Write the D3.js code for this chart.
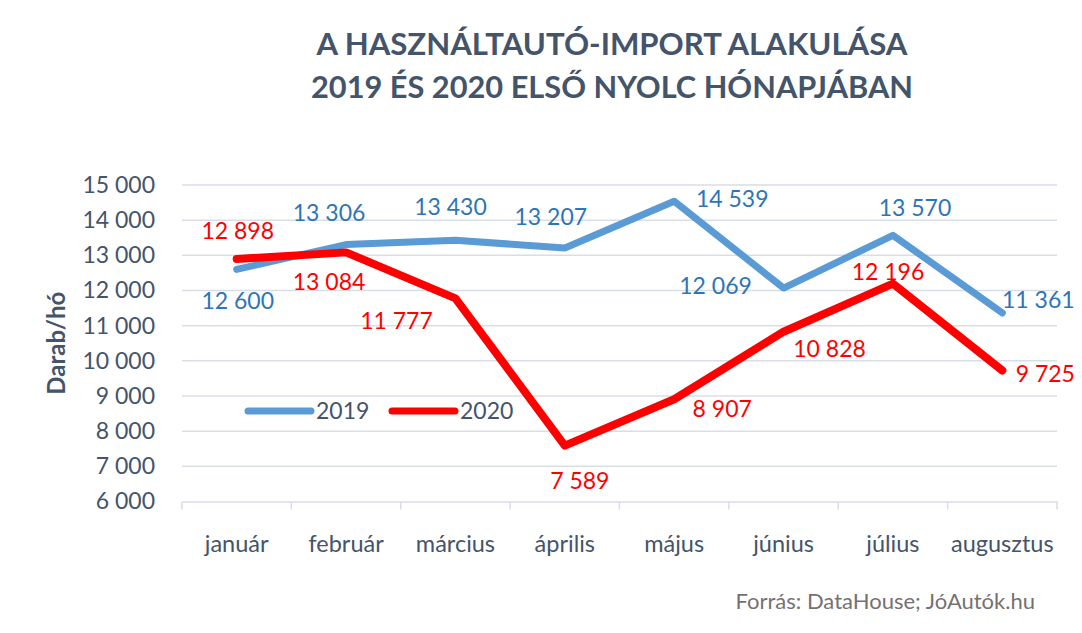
<!DOCTYPE html>
<html>
<head>
<meta charset="utf-8">
<script src="https://cdn.jsdelivr.net/npm/d3@7"></script>
<style>
  body { margin: 0; background: #fff; }
  svg { display: block; font-family: Lato, "Open Sans", sans-serif; }
</style>
</head>
<body>
<div id="chart"></div>
<script>
const width = 1082;
const height = 633;

// data
const months = ["január", "február", "március", "április", "május", "június", "július", "augusztus"];
const values2019 = [12600, 13306, 13430, 13207, 14539, 12069, 13570, 11361];
const values2020 = [12898, 13084, 11777, 7589, 8907, 10828, 12196, 9725];
const yTicks = [6000, 7000, 8000, 9000, 10000, 11000, 12000, 13000, 14000, 15000];
const seriesNames = ["2019", "2020"];
const titleLines = ["A HASZNÁLTAUTÓ-IMPORT ALAKULÁSA", "2019 ÉS 2020 ELSŐ NYOLC HÓNAPJÁBAN"];

// label offsets from the point (the way they were placed in the original)
const offsets2019 = [[1, 31], [-17, -32], [-5, -33], [-14, -31], [58, -2], [-68, -2], [22, -28], [36, -13]];
const offsets2020 = [[1, -28], [-17, 29], [-59, 22], [15, 35], [48, 9], [46, 17], [-5, -12], [43, 3]];

const textColor = "#44546A";
const gridColor = "#D9DEE6";

const margin = { top: 185, right: 25, bottom: 131, left: 182 };

const svg = d3.select("#chart")
    .append("svg")
    .attr("width", width)
    .attr("height", height);

const x = d3.scaleBand()
    .domain(months)
    .range([margin.left, width - margin.right]);

const y = d3.scaleLinear()
    .domain([6000, 15000])
    .range([height - margin.bottom - 0.5, margin.top]);

const fmt = v => d3.format(",")(v).replace(/,/g, " ");

// title
svg.append("g")
    .selectAll("text")
    .data(titleLines)
    .join("text")
    .attr("x", 612)
    .attr("y", (d, i) => 55 + i * 43)
    .attr("text-anchor", "middle")
    .attr("fill", textColor)
    .attr("font-weight", 700)
    .attr("font-size", 31)
    .attr("textLength", (d, i) => i === 0 ? 591 : 602)
    .attr("lengthAdjust", "spacingAndGlyphs")
    .text(d => d);

// gridlines
svg.append("g")
    .selectAll("line")
    .data(yTicks.slice(1))
    .join("line")
    .attr("x1", margin.left)
    .attr("x2", width - margin.right)
    .attr("y1", d => y(d))
    .attr("y2", d => y(d))
    .attr("stroke", gridColor)
    .attr("stroke-width", 1.5);

// y axis labels
const yAxis = svg.append("g")
    .attr("transform", `translate(${margin.left},0)`)
    .call(d3.axisLeft(y).tickValues(yTicks).tickFormat(fmt).tickSize(0).tickPadding(27));
yAxis.select(".domain").remove();
yAxis.selectAll("text")
    .attr("fill", textColor)
    .attr("font-size", 23)
    .attr("font-family", "Lato, 'Open Sans', sans-serif");

// x axis
const xAxis = svg.append("g")
    .attr("transform", `translate(0,${y(6000)})`)
    .call(d3.axisBottom(x).tickSize(0).tickPadding(34));
xAxis.select(".domain").attr("stroke", gridColor).attr("stroke-width", 1.5);
xAxis.selectAll("text")
    .attr("fill", textColor)
    .attr("font-size", 23.5)
    .attr("font-family", "Lato, 'Open Sans', sans-serif");

// band boundary ticks
const bounds = months.map(m => x(m)).concat([x(months[months.length - 1]) + x.bandwidth()]);
xAxis.append("g")
    .selectAll("line")
    .data(bounds)
    .join("line")
    .attr("x1", d => d)
    .attr("x2", d => d)
    .attr("y1", 0)
    .attr("y2", 8)
    .attr("stroke", gridColor)
    .attr("stroke-width", 1.5);

// y axis title
svg.append("text")
    .attr("transform", `translate(65,${y(10500)}) rotate(-90)`)
    .attr("text-anchor", "middle")
    .attr("fill", textColor)
    .attr("font-weight", 700)
    .attr("font-size", 24)
    .text("Darab/hó");

// lines
const line = d3.line()
    .x((d, i) => x(months[i]) + x.bandwidth() / 2)
    .y(d => y(d));

const series = [
    { name: seriesNames[0], values: values2019, offsets: offsets2019, stroke: "#5B9BD5", label: "#2E75B6", width: 7 },
    { name: seriesNames[1], values: values2020, offsets: offsets2020, stroke: "#FF0000", label: "#FF0000", width: 8 }
];

series.forEach(s => {
    svg.append("path")
        .datum(s.values)
        .attr("d", line)
        .attr("fill", "none")
        .attr("stroke", s.stroke)
        .attr("stroke-width", s.width)
        .attr("stroke-linejoin", "round")
        .attr("stroke-linecap", "round");
});

// data labels
series.forEach(s => {
    svg.append("g")
        .selectAll("text")
        .data(s.values)
        .join("text")
        .attr("x", (d, i) => x(months[i]) + x.bandwidth() / 2 + s.offsets[i][0])
        .attr("y", (d, i) => y(d) + s.offsets[i][1])
        .attr("dy", "0.36em")
        .attr("text-anchor", "middle")
        .attr("fill", s.label)
        .attr("font-size", 23)
        .text(fmt);
});

// legend
const legend = svg.append("g").attr("transform", "translate(248,411)");
const legendItem = legend.selectAll("g")
    .data(series)
    .join("g")
    .attr("transform", (d, i) => `translate(${i * 144},0)`);
legendItem.append("line")
    .attr("x1", 0)
    .attr("x2", 63)
    .attr("stroke", d => d.stroke)
    .attr("stroke-width", 7)
    .attr("stroke-linecap", "round");
legendItem.append("text")
    .attr("x", 68)
    .attr("dy", "0.36em")
    .attr("fill", textColor)
    .attr("font-size", 23)
    .text(d => d.name);

// source
svg.append("text")
    .attr("x", 1035)
    .attr("y", 609)
    .attr("text-anchor", "end")
    .attr("fill", "#767171")
    .attr("font-size", 22)
    .text("Forrás: DataHouse; JóAutók.hu");
</script>
</body>
</html>
